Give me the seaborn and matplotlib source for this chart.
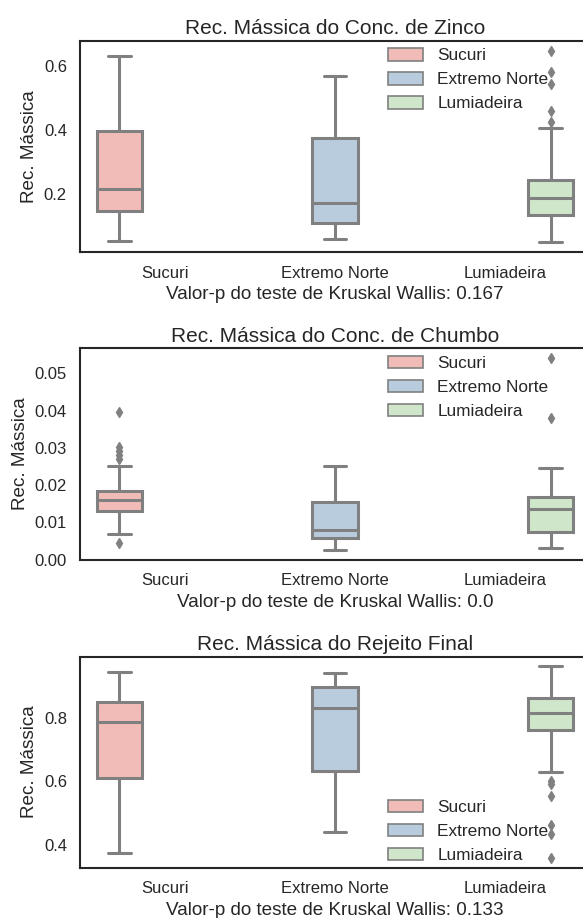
import numpy as np
import pandas as pd
import matplotlib
matplotlib.use("Agg")
import matplotlib.pyplot as plt
from matplotlib.patches import Patch
import seaborn as sns

# Sites (categories) and legend order
locais = ["Sucuri", "Extremo Norte", "Lumiadeira"]

# Mass recovery of the zinc concentrate, per site
zinco_sucuri = [0.055, 0.120, 0.148, 0.180, 0.215, 0.300, 0.395, 0.520, 0.629]
zinco_extremo_norte = [0.062, 0.090, 0.109, 0.140, 0.174, 0.260, 0.374, 0.470, 0.569]
zinco_lumiadeira = [0.050, 0.080, 0.100, 0.115, 0.125, 0.130, 0.135, 0.145, 0.155,
                    0.165, 0.175, 0.182, 0.189, 0.198, 0.207, 0.218, 0.228, 0.236,
                    0.244, 0.405, 0.425, 0.458, 0.543, 0.580, 0.6465]

# Mass recovery of the lead concentrate, per site
chumbo_sucuri = [0.0045, 0.0068, 0.0085, 0.0098, 0.0108, 0.0115, 0.0121, 0.0126,
                 0.0130, 0.0136, 0.0141, 0.0146, 0.0150, 0.0153, 0.0156, 0.0159,
                 0.0161, 0.0164, 0.0167, 0.0170, 0.0173, 0.0176, 0.0179, 0.0182,
                 0.0184, 0.0205, 0.0225, 0.0250, 0.0270, 0.0280, 0.0292, 0.0302,
                 0.0396]
chumbo_extremo_norte = [0.0026, 0.0045, 0.0059, 0.0068, 0.0079, 0.0110, 0.0154,
                        0.0200, 0.0252]
chumbo_lumiadeira = [0.0030, 0.0050, 0.0064, 0.0075, 0.0100, 0.0121, 0.0136,
                     0.0148, 0.0158, 0.0168, 0.0247, 0.0381, 0.0541]

# Mass recovery of the final tailings, per site
rejeito_sucuri = [0.372, 0.500, 0.609, 0.720, 0.785, 0.820, 0.850, 0.900, 0.944]
rejeito_extremo_norte = [0.439, 0.550, 0.633, 0.750, 0.829, 0.870, 0.897, 0.920, 0.941]
rejeito_lumiadeira = [0.358, 0.432, 0.463, 0.552, 0.590, 0.600, 0.630, 0.761, 0.770,
                      0.778, 0.785, 0.793, 0.800, 0.807, 0.8135, 0.820, 0.828, 0.836,
                      0.843, 0.850, 0.857, 0.863, 0.875, 0.885, 0.900, 0.915, 0.930,
                      0.945, 0.962]

titulos = ["Rec. Mássica do Conc. de Zinco",
           "Rec. Mássica do Conc. de Chumbo",
           "Rec. Mássica do Rejeito Final"]
p_valores = ["0.167", "0.0", "0.133"]
legenda_loc = ["upper left", "upper left", "lower left"]

series = [
    [zinco_sucuri, zinco_extremo_norte, zinco_lumiadeira],
    [chumbo_sucuri, chumbo_extremo_norte, chumbo_lumiadeira],
    [rejeito_sucuri, rejeito_extremo_norte, rejeito_lumiadeira],
]

sns.set_style("white")
plt.rcParams["font.family"] = ["Liberation Sans", "DejaVu Sans"]
plt.rcParams["axes.edgecolor"] = ".15"
plt.rcParams["axes.linewidth"] = 1.5
plt.rcParams["text.color"] = ".15"
plt.rcParams["axes.labelcolor"] = ".15"
plt.rcParams["xtick.color"] = ".15"
plt.rcParams["ytick.color"] = ".15"

fig = plt.figure(figsize=(5.83, 9.18), dpi=100)
W, H = 583.0, 918.0
ax_left, ax_width = 79.5 / W, 511.0 / W
ax_h = 211.0 / H
ax_bottoms = [1 - 252.0 / H, 1 - 559.5 / H, 1 - 867.5 / H]

for i in range(3):
    ax = fig.add_axes([ax_left, ax_bottoms[i], ax_width, ax_h])
    df = pd.DataFrame({
        "Local": np.concatenate([[loc] * len(v) for loc, v in zip(locais, series[i])]),
        "Rec": np.concatenate([np.asarray(v, dtype=float) for v in series[i]]),
    })
    sns.boxplot(data=df, x="Local", y="Rec", hue="Local", order=locais,
                hue_order=locais, palette="Pastel1", dodge=True, ax=ax,
                linecolor="0.5", linewidth=2.2, legend=False,
                flierprops=dict(marker="d", markerfacecolor="0.5",
                                markeredgecolor="0.5", markersize=5))
    if i == 1:
        ax.set_ylim(bottom=0.0)
    ax.set_title(titulos[i], fontsize=15, pad=5)
    ax.set_ylabel("Rec. Mássica", fontsize=13.6)
    ax.set_xlabel("Valor-p do teste de Kruskal Wallis: " + p_valores[i], fontsize=13.6)
    ax.tick_params(axis="both", labelsize=12, length=0)
    ax.tick_params(axis="y", pad=9)
    ax.tick_params(axis="x", pad=10)

    # legend entries use the fill colours of the drawn boxes
    box_colors = [p.get_facecolor() for p in ax.patches][:len(locais)]
    handles = [Patch(facecolor=c, edgecolor="0.5", linewidth=1.2) for c in box_colors]
    anchor = (0.604, 0.966) if i < 2 else (0.604, 0.022)
    ax.legend(handles, locais, loc=legenda_loc[i], bbox_to_anchor=anchor,
              frameon=False, fontsize=12.4, borderpad=0, borderaxespad=0,
              handlelength=2.0, handleheight=0.75, handletextpad=0.85,
              labelspacing=0.5)

fig.savefig("out.png", dpi=100)
